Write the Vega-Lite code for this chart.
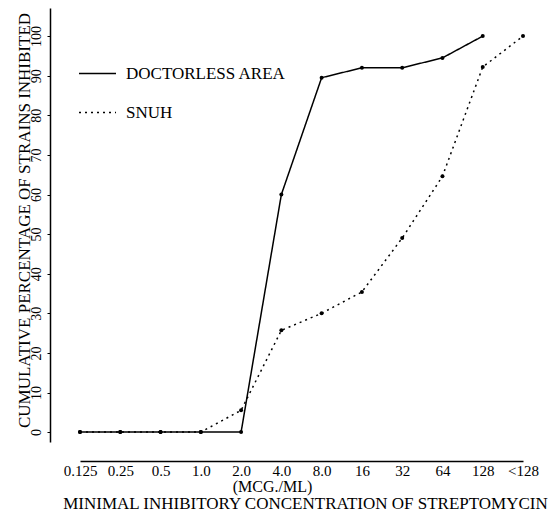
{
  "$schema": "https://vega.github.io/schema/vega-lite/v6.json",
  "width": 480,
  "height": 434,
  "autosize": "none",
  "padding": {"left": 50, "top": 8, "right": 27, "bottom": 71},
  "background": "white",
  "config": {
    "view": {"stroke": null},
    "font": "Liberation Serif",
    "axis": {"grid": false, "labelFont": "Liberation Serif", "titleFont": "Liberation Serif", "labelColor": "black", "titleColor": "black", "domainColor": "black", "tickColor": "black", "titleFontWeight": "normal"},
    "legend": {"labelFont": "Liberation Serif", "labelColor": "black"}
  },
  "data": {
    "values": [
      {"conc": "0.125", "series": "DOCTORLESS AREA", "pct": 0},
      {"conc": "0.25", "series": "DOCTORLESS AREA", "pct": 0},
      {"conc": "0.5", "series": "DOCTORLESS AREA", "pct": 0},
      {"conc": "1.0", "series": "DOCTORLESS AREA", "pct": 0},
      {"conc": "2.0", "series": "DOCTORLESS AREA", "pct": 0},
      {"conc": "4.0", "series": "DOCTORLESS AREA", "pct": 60},
      {"conc": "8.0", "series": "DOCTORLESS AREA", "pct": 89.5},
      {"conc": "16", "series": "DOCTORLESS AREA", "pct": 92},
      {"conc": "32", "series": "DOCTORLESS AREA", "pct": 92},
      {"conc": "64", "series": "DOCTORLESS AREA", "pct": 94.5},
      {"conc": "128", "series": "DOCTORLESS AREA", "pct": 100},
      {"conc": "0.125", "series": "SNUH", "pct": 0},
      {"conc": "0.25", "series": "SNUH", "pct": 0},
      {"conc": "0.5", "series": "SNUH", "pct": 0},
      {"conc": "1.0", "series": "SNUH", "pct": 0},
      {"conc": "2.0", "series": "SNUH", "pct": 5.5},
      {"conc": "4.0", "series": "SNUH", "pct": 25.7},
      {"conc": "8.0", "series": "SNUH", "pct": 30},
      {"conc": "16", "series": "SNUH", "pct": 35.4},
      {"conc": "32", "series": "SNUH", "pct": 49},
      {"conc": "64", "series": "SNUH", "pct": 64.6},
      {"conc": "128", "series": "SNUH", "pct": 92.2},
      {"conc": "<128", "series": "SNUH", "pct": 100}
    ]
  },
  "encoding": {
    "y": {
      "field": "pct", "type": "quantitative",
      "scale": {"domain": [-2.5, 107.1], "nice": false, "zero": false},
      "axis": {
        "values": [0,10,20,30,40,50,60,70,80,90,100],
        "labelAngle": -90, "labelAlign": "center", "labelBaseline": "bottom", "labelFontSize": 14, "labelPadding": 4,
        "tickSize": 3, "domainWidth": 1.5,
        "title": "CUMULATIVE PERCENTAGE OF STRAINS INHIBITED", "titleFontSize": 17, "titlePadding": -4, "titleY": 212
      }
    },
    "strokeDash": {
      "field": "series", "type": "nominal",
      "scale": {"domain": ["DOCTORLESS AREA", "SNUH"], "range": [[1, 0], [2, 4]]},
      "legend": {
        "title": null, "orient": "none", "legendX": 28, "legendY": 46, "padding": 0,
        "symbolType": "stroke", "symbolSize": 1369, "symbolStrokeWidth": 1.5, "symbolStrokeColor": "black",
        "labelFontSize": 17, "labelOffset": 9, "rowPadding": 11
      }
    }
  },
  "layer": [
    {
      "mark": {"type": "line", "color": "black", "strokeWidth": 1.5},
      "encoding": {
        "detail": {"field": "series"},
        "x": {
          "field": "conc", "type": "ordinal",
          "scale": {"type": "point", "domain": ["0.125","0.25","0.5","1.0","2.0","4.0","8.0","16","32","64","128","<128"], "range": [30, 473], "padding": 0},
          "axis": {
            "orient": "bottom", "offset": 19, "ticks": false, "labelAngle": 0, "labelFontSize": 15, "labelPadding": 2, "domainWidth": 1.5,
            "title": "MINIMAL INHIBITORY CONCENTRATION OF STREPTOMYCIN",
            "titleFontSize": 17, "titlePadding": 17, "titleX": 255
          }
        }
      }
    },
    {
      "mark": {"type": "point", "filled": true, "color": "black", "size": 16, "opacity": 1},
      "encoding": {
        "strokeDash": null,
        "x": {
          "field": "conc", "type": "ordinal",
          "scale": {"type": "point", "domain": ["0.125","0.25","0.5","1.0","2.0","4.0","8.0","16","32","64","128","<128"], "range": [30, 473], "padding": 0},
          "axis": {
            "orient": "bottom", "offset": 19, "ticks": false, "labels": false, "domain": false,
            "title": "(MCG./ML)", "titleFontSize": 16, "titlePadding": 17, "titleX": 222
          }
        }
      }
    }
  ],
  "resolve": {"axis": {"x": "independent"}}
}
